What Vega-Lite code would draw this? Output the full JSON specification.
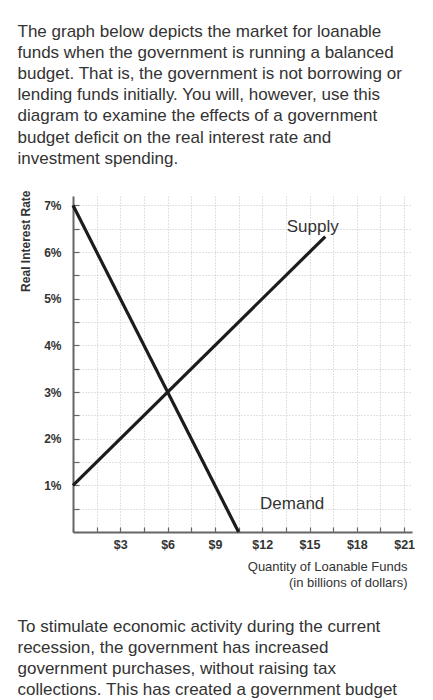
{
  "$schema": "https://vega.github.io/schema/vega-lite/v6.json",
  "width": 339,
  "height": 336,
  "autosize": {"type": "none"},
  "padding": {"left": 73, "top": 196, "right": 21, "bottom": 168},
  "background": "white",
  "config": {"view": {"stroke": null}},
  "layer": [
    {
      "data": {"values": [
        {"curve": "Demand", "q": 0, "r": 7},
        {"curve": "Demand", "q": 10.5, "r": 0},
        {"curve": "Supply", "q": 0, "r": 1},
        {"curve": "Supply", "q": 16, "r": 6.33}
      ]},
      "mark": {"type": "line", "color": "#1c1c1c", "strokeWidth": 3.2},
      "encoding": {
        "x": {
          "field": "q", "type": "quantitative",
          "scale": {"domain": [0, 21.5], "nice": false, "zero": true},
          "axis": {
            "orient": "bottom",
            "values": [0, 1.5, 3, 4.5, 6, 7.5, 9, 10.5, 12, 13.5, 15, 16.5, 18, 19.5, 21],
            "labelExpr": "datum.value % 3 == 0 && datum.value > 0 ? '$' + datum.value : ''",
            "labelFont": "Liberation Sans", "labelFontSize": 12.5, "labelFontWeight": "bold", "labelColor": "#333",
            "labelPadding": 11,
            "tickSize": -5, "tickColor": "#666", "tickWidth": 1.2,
            "domainColor": "#666", "domainWidth": 2,
            "grid": true, "gridColor": "#c4c4c4", "gridDash": [1, 2], "gridWidth": 1,
            "title": ["Quantity of Loanable Funds", "(in billions of dollars)"],
            "titleFont": "Liberation Sans", "titleFontSize": 13, "titleFontWeight": "normal", "titleColor": "#333",
            "titleAlign": "right", "titleBaseline": "top", "titleX": 334, "titleY": 28, "titleLineHeight": 16
          }
        },
        "y": {
          "field": "r", "type": "quantitative",
          "scale": {"domain": [0, 7.2], "nice": false, "zero": true},
          "axis": {
            "orient": "left",
            "values": [0, 0.5, 1, 1.5, 2, 2.5, 3, 3.5, 4, 4.5, 5, 5.5, 6, 6.5, 7],
            "labelExpr": "datum.value >= 1 && datum.value % 1 == 0 ? datum.value + '%' : ''",
            "labelFont": "Liberation Sans", "labelFontSize": 12, "labelFontWeight": "bold", "labelColor": "#333",
            "labelPadding": 18,
            "tickSize": -6, "tickColor": "#666", "tickWidth": 1.2,
            "domainColor": "#666", "domainWidth": 2,
            "grid": true, "gridColor": "#c4c4c4", "gridDash": [1, 2], "gridWidth": 1,
            "title": "Real Interest Rate",
            "titleFont": "Liberation Sans", "titleFontSize": 12, "titleFontWeight": "bold", "titleColor": "#333",
            "titleAngle": -90, "titleAlign": "right", "titleBaseline": "middle", "titleX": -48, "titleY": -6
          }
        },
        "detail": {"field": "curve", "type": "nominal"}
      }
    },
    {
      "data": {"values": [
        {"label": "Supply", "q": 15.2, "r": 6.53},
        {"label": "Demand", "q": 13.9, "r": 0.6}
      ]},
      "mark": {"type": "text", "font": "Liberation Sans", "fontSize": 17, "color": "#333", "baseline": "middle", "align": "center"},
      "encoding": {
        "x": {
          "field": "q", "type": "quantitative",
          "scale": {"domain": [0, 21.5], "nice": false, "zero": true},
          "axis": {
            "orient": "top", "domain": false, "ticks": false, "labels": false, "grid": false,
            "title": [
              "The graph below depicts the market for loanable",
              "funds when the government is running a balanced",
              "budget. That is, the government is not borrowing or",
              "lending funds initially. You will, however, use this",
              "diagram to examine the effects of a government",
              "budget deficit on the real interest rate and",
              "investment spending."
            ],
            "titleFont": "Liberation Sans", "titleFontSize": 17, "titleFontWeight": "normal", "titleColor": "#333",
            "titleAngle": 0, "titleAlign": "left", "titleBaseline": "top", "titleX": -56, "titleY": -173, "titleLineHeight": 21.2
          }
        },
        "y": {
          "field": "r", "type": "quantitative",
          "scale": {"domain": [0, 7.2], "nice": false, "zero": true},
          "axis": {
            "orient": "right", "domain": false, "ticks": false, "labels": false, "grid": false,
            "title": [
              "To stimulate economic activity during the current",
              "recession, the government has increased",
              "government purchases, without raising tax",
              "collections. This has created a government budget"
            ],
            "titleFont": "Liberation Sans", "titleFontSize": 17, "titleFontWeight": "normal", "titleColor": "#333",
            "titleAngle": 0, "titleAlign": "left", "titleBaseline": "top", "titleX": -395, "titleY": 422, "titleLineHeight": 21
          }
        },
        "text": {"field": "label", "type": "nominal"}
      }
    }
  ],
  "resolve": {
    "scale": {"x": "independent", "y": "independent"},
    "axis": {"x": "independent", "y": "independent"}
  }
}
